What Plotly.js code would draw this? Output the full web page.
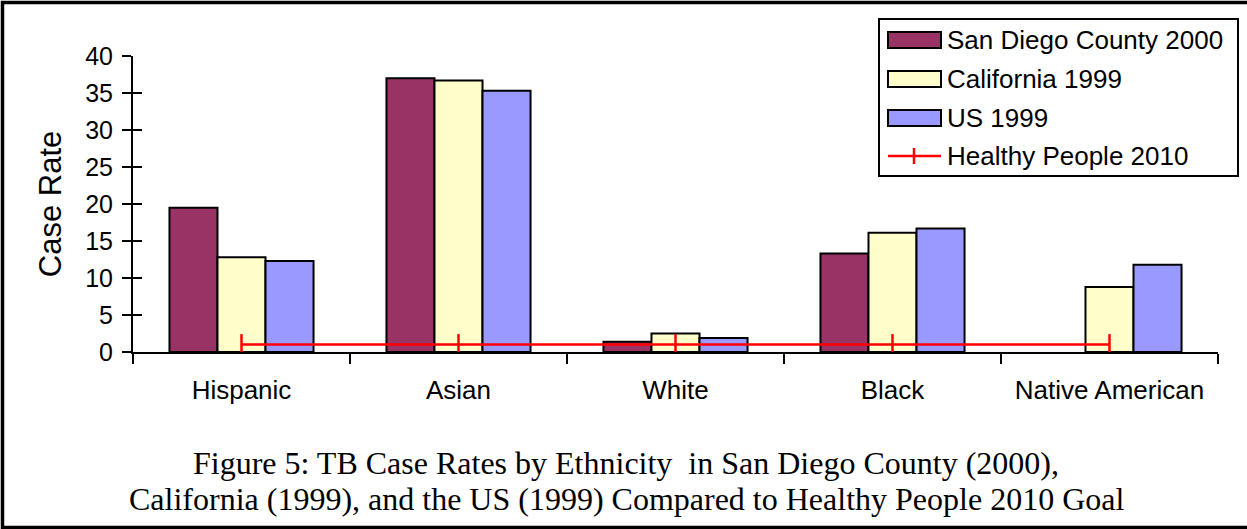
<!DOCTYPE html>
<html>
<head>
<meta charset="utf-8">
<script src="https://cdn.plot.ly/plotly-3.0.1.min.js"></script>
<style>
  html, body { margin: 0; padding: 0; background: #ffffff; }
  #chart { width: 1247px; height: 529px; }
</style>
</head>
<body>
<div id="chart"></div>
<script>
// TB case rates per 100,000 by ethnicity
const categories = ['Hispanic', 'Asian', 'White', 'Black', 'Native American'];
const sanDiego2000 = [19.5, 37.0, 1.4, 13.3, null];
const california1999 = [12.8, 36.7, 2.5, 16.1, 8.8];
const us1999 = [12.3, 35.3, 1.9, 16.7, 11.8];
const healthyPeople2010 = [1, 1, 1, 1, 1];
const yTickValues = [0, 5, 10, 15, 20, 25, 30, 35, 40];

const seriesNames = ['San Diego County 2000', 'California 1999', 'US 1999', 'Healthy People 2010'];
const seriesColors = ['#993366', '#FFFFCC', '#9999FF', '#FF0000'];

const W = 1247, H = 529;
const M = { l: 133, r: 29, t: 56, b: 177 };
const plotW = W - M.l - M.r;
const plotH = H - M.t - M.b;
// pixel -> paper helpers for decorations
const px = x => (x - M.l) / plotW;
const py = y => (H - M.b - y) / plotH;

const sans = 'Liberation Sans, Arial, sans-serif';
const serif = 'Liberation Serif, Times New Roman, serif';

const barOutline = { color: '#000000', width: 2 };

const traces = [
  { type: 'bar', name: seriesNames[0], x: categories, y: sanDiego2000,
    marker: { color: seriesColors[0], line: barOutline } },
  { type: 'bar', name: seriesNames[1], x: categories, y: california1999,
    marker: { color: seriesColors[1], line: barOutline } },
  { type: 'bar', name: seriesNames[2], x: categories, y: us1999,
    marker: { color: seriesColors[2], line: barOutline } },
  { type: 'scatter', mode: 'lines+markers', name: seriesNames[3], x: categories, y: healthyPeople2010,
    line: { color: seriesColors[3], width: 2.5 },
    marker: { symbol: 'line-ns', size: 15, line: { color: seriesColors[3], width: 2.5 } } },
  // second y axis only carries the inward half of the crossing ticks
  { type: 'scatter', x: [categories[0]], y: [0], yaxis: 'y2', mode: 'none',
    hoverinfo: 'skip', showlegend: false }
];

// hand-built legend box
const shapes = [];
const annotations = [];
shapes.push({ type: 'rect', xref: 'paper', yref: 'paper',
  x0: px(879), x1: px(1238), y0: py(19), y1: py(176),
  line: { color: '#000000', width: 2 }, fillcolor: '#ffffff' });
const rowY = [40, 79, 118, 156];
for (let i = 0; i < 3; i++) {
  shapes.push({ type: 'rect', xref: 'paper', yref: 'paper',
    x0: px(888), x1: px(941), y0: py(rowY[i] - 8), y1: py(rowY[i] + 8),
    line: { color: '#000000', width: 2 }, fillcolor: seriesColors[i] });
}
shapes.push({ type: 'line', xref: 'paper', yref: 'paper',
  x0: px(888), x1: px(941), y0: py(rowY[3]), y1: py(rowY[3]),
  line: { color: seriesColors[3], width: 2.5 } });
shapes.push({ type: 'line', xref: 'paper', yref: 'paper',
  x0: px(914), x1: px(914), y0: py(rowY[3] - 8), y1: py(rowY[3] + 8),
  line: { color: seriesColors[3], width: 2.5 } });
for (let i = 0; i < 4; i++) {
  annotations.push({ xref: 'paper', yref: 'paper', x: px(945), y: py(rowY[i]),
    xanchor: 'left', yanchor: 'middle', showarrow: false, text: seriesNames[i],
    font: { family: sans, size: 26, color: '#000000' } });
}

// figure caption
const captionLines = [
  'Figure 5: TB Case Rates by Ethnicity \u00a0in San Diego County (2000),',
  'California (1999), and the US (1999) Compared to Healthy People 2010 Goal'
];
const captionY = [463, 499];
captionLines.forEach((t, i) => {
  annotations.push({ xref: 'paper', yref: 'paper', x: px(626), y: py(captionY[i]),
    xanchor: 'center', yanchor: 'middle', showarrow: false, text: t,
    font: { family: serif, size: 32, color: '#000000' } });
});

// outer frame
shapes.push({ type: 'rect', xref: 'paper', yref: 'paper',
  x0: px(2.5), x1: px(1252), y0: py(2.5), y1: py(527.5),
  line: { color: '#000000', width: 3.5 }, fillcolor: 'rgba(0,0,0,0)' });

const layout = {
  width: W, height: H,
  margin: M,
  paper_bgcolor: '#ffffff', plot_bgcolor: '#ffffff',
  showlegend: false,
  barmode: 'group', bargap: 0.336, bargroupgap: 0,
  font: { family: sans, size: 24, color: '#000000' },
  xaxis: {
    type: 'category', range: [-0.5, 4.5],
    showline: true, linecolor: '#000000', linewidth: 2,
    ticks: 'outside', tickson: 'boundaries', ticklen: 10, tickwidth: 2, tickcolor: '#000000',
    showgrid: false, zeroline: false, ticklabelstandoff: 14,
    tickfont: { family: sans, size: 26, color: '#000000' }
  },
  yaxis: {
    range: [0, 40], tickvals: yTickValues,
    showline: true, linecolor: '#000000', linewidth: 2,
    ticks: 'outside', ticklen: 9, tickwidth: 2, tickcolor: '#000000',
    showgrid: false, zeroline: false, ticklabelstandoff: 4,
    tickfont: { family: sans, size: 25, color: '#000000' },
    title: { text: 'Case Rate', font: { family: sans, size: 31, color: '#000000' }, standoff: 14 }
  },
  yaxis2: {
    overlaying: 'y', side: 'left', anchor: 'x',
    range: [0, 40], tickvals: yTickValues,
    ticks: 'inside', ticklen: 9, tickwidth: 2, tickcolor: '#000000',
    showticklabels: false, showline: false, showgrid: false, zeroline: false
  },
  shapes: shapes,
  annotations: annotations
};

Plotly.newPlot('chart', traces, layout, { displayModeBar: false, staticPlot: true });
</script>
</body>
</html>
